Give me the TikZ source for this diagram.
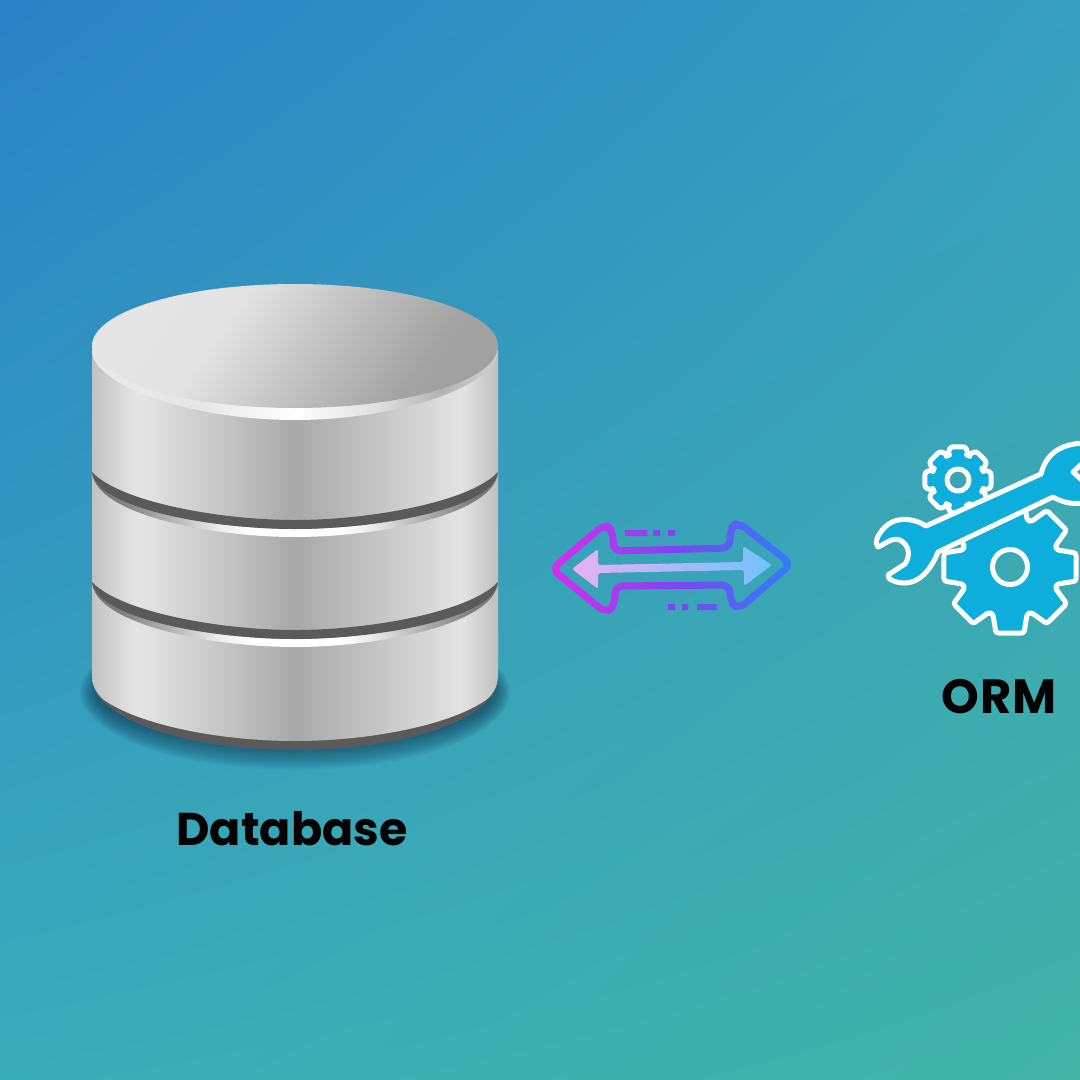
\documentclass[tikz,border=0pt]{standalone}
\usepackage{fontspec}
\setmainfont{Poppins}[BoldFont={Poppins Bold}]
\usetikzlibrary{shadings}
\definecolor{gearblue}{HTML}{0DAEDC}
\definecolor{bgul}{HTML}{2A82C6}
\definecolor{bgur}{HTML}{379FBF}
\definecolor{bgll}{HTML}{3AADBA}
\definecolor{bglr}{HTML}{41B4A6}
\definecolor{cl}{HTML}{D52EF0}
\definecolor{cm}{HTML}{7F45F0}
\definecolor{cr}{HTML}{2A82F8}
\definecolor{darkband}{HTML}{5A5A5A}
\definecolor{shadowcol}{HTML}{123F5C}
\definecolor{pale}{HTML}{E8B0F2}
\definecolor{palemid}{HTML}{BDB4F6}
\definecolor{paler}{HTML}{70C2FF}
% TikZ maps the central 25--75bp of a shading on the bounding box
\pgfdeclarehorizontalshading{metal}{100bp}{
 color(0bp)=(black!24);
 color(25bp)=(black!24);
 color(30.5bp)=(black!10);
 color(40bp)=(black!21);
 color(50bp)=(black!34);
 color(60bp)=(black!23);
 color(70.5bp)=(black!11);
 color(75bp)=(black!25);
 color(100bp)=(black!25)}
\pgfdeclarehorizontalshading{glint}{100bp}{
 color(0bp)=(black!55);
 color(25bp)=(black!55);
 color(28.5bp)=(black!50);
 color(34.5bp)=(black!30);
 color(40.5bp)=(black!8);
 color(44.5bp)=(white);
 color(55.5bp)=(white);
 color(59.5bp)=(black!8);
 color(65.5bp)=(black!30);
 color(71.5bp)=(black!50);
 color(75bp)=(black!55);
 color(100bp)=(black!55)}
\pgfdeclarehorizontalshading{rimglint}{100bp}{
 color(0bp)=(black!8);
 color(25bp)=(black!8);
 color(38bp)=(black!10);
 color(50bp)=(white);
 color(60bp)=(black!12);
 color(68bp)=(black!30);
 color(75bp)=(black!18);
 color(100bp)=(black!18)}
\pgfdeclarehorizontalshading{lidshade}{100bp}{
 color(0bp)=(black!10);
 color(25bp)=(black!10);
 color(38bp)=(black!11);
 color(55bp)=(black!25);
 color(70bp)=(black!36);
 color(75bp)=(black!37);
 color(100bp)=(black!37)}
\tikzset{
 metalbody/.style={shading=metal,shading angle=0},
 glintband/.style={shading=glint,shading angle=0},
 gearshape/.style={fill=gearblue,draw=white,line width=5pt,line join=round,rounded corners=2.5pt,even odd rule},
 labeltext/.style={text=black,inner sep=0pt}
}
\newcommand{\gearring}[7]{% cx cy R r n halfroot halftip -> \gearpts
 \gdef\gearpts{}%
 \foreach \gi in {1,...,#5}{%
  \pgfmathsetmacro{\gc}{\gi*360/#5}%
  \pgfmathsetmacro{\xa}{#1+#4*cos(\gc-#6)}\pgfmathsetmacro{\ya}{#2+#4*sin(\gc-#6)}%
  \pgfmathsetmacro{\xb}{#1+#3*cos(\gc-#7)}\pgfmathsetmacro{\yb}{#2+#3*sin(\gc-#7)}%
  \pgfmathsetmacro{\xc}{#1+#3*cos(\gc+#7)}\pgfmathsetmacro{\yc}{#2+#3*sin(\gc+#7)}%
  \pgfmathsetmacro{\xd}{#1+#4*cos(\gc+#6)}\pgfmathsetmacro{\yd}{#2+#4*sin(\gc+#6)}%
  \xdef\gearpts{\gearpts (\xa,\ya) -- (\xb,\yb) -- (\xc,\yc) -- (\xd,\yd) -- }%
 }%
}
\begin{document}
\begin{tikzpicture}[x=1pt,y=-1pt]
\useasboundingbox (0,0) rectangle (1080,1080);
\clip (0,0) rectangle (1080,1080);
\shade[upper left=bgul,upper right=bgur,lower left=bgll,lower right=bglr] (0,0) rectangle (1080,1080);
% shadow
\foreach \k in {0,...,21}{
 \fill[shadowcol,opacity=0.045] (295,692) ellipse ({215-\k*0.8} and {78-\k*1.2});
}
% cylinder
\fill[darkband] (92,660) -- (97,695) .. controls (130,735) and (220,750) .. (295,750) .. controls (370,750) and (460,735) .. (493,695) -- (498,660) -- cycle;
\shade[metalbody] (92,350) -- (92,675) .. controls (92,688) and (98,695) .. (104,700) .. controls (140,725) and (220,741) .. (295,741) .. controls (370,741) and (450,725) .. (486,700) .. controls (492,695) and (498,688) .. (498,675) -- (498,350) -- cycle;
% bands
\foreach \yy in {472,582}{
 \shade[glintband] (92,\yy) .. controls (95,{\yy+42}) and (210,{\yy+65}) .. (295,{\yy+65}) .. controls (380,{\yy+65}) and (495,{\yy+42}) .. (498,\yy) .. controls (495,{\yy+36}) and (380,{\yy+57}) .. (295,{\yy+57}) .. controls (210,{\yy+57}) and (95,{\yy+36}) .. (92,\yy) -- cycle;
 \fill[darkband] (92,\yy) .. controls (95,{\yy+36}) and (210,{\yy+57}) .. (295,{\yy+57}) .. controls (380,{\yy+57}) and (495,{\yy+36}) .. (498,\yy) .. controls (470,{\yy+30}) and (370,{\yy+48}) .. (295,{\yy+48}) .. controls (220,{\yy+48}) and (120,{\yy+30}) .. (92,\yy) -- cycle;
}
% lid
\shade[shading=rimglint,shading angle=0] (92,350) .. controls (92,385) and (190,420) .. (295,420) .. controls (400,420) and (498,385) .. (498,350) -- cycle;
\shade[shading=lidshade,shading angle=-35] (295,346) ellipse (203 and 62);
% labels
\node[labeltext,font=\fontsize{46}{50}\selectfont\bfseries] (database) at (292,829) {Database};
\node[labeltext,font=\fontsize{48}{50}\selectfont\bfseries\addfontfeature{LetterSpace=3}] (orm) at (999,697) {ORM};
% arrow outline with gradient, in vertical slices
\foreach \s in {0,...,39}{
 \pgfmathsetmacro{\xa}{548+\s*6.2}
 \pgfmathsetmacro{\xb}{\xa+6.6}
 \pgfmathsetmacro{\mixa}{min(100,\s*5)}
 \pgfmathsetmacro{\mixb}{max(0,(\s-20)*5)}
 \ifnum\s<20 \colorlet{slicecol}{cm!\mixa!cl}\else\colorlet{slicecol}{cr!\mixb!cm}\fi
 \begin{scope}
 \clip (\xa,510) rectangle (\xb,625);
 \draw[slicecol,line width=7pt,rounded corners=8pt,line join=round]
  (552,569) -- (605,524) -- (613,531) -- (613,551) -- (730,548) -- (730,529) -- (738,522) -- (791,564) -- (739,609) -- (730,602) -- (730,585) -- (615,586) -- (615,605) -- (606,613) -- cycle;
 \fill[slicecol] (625,530) rectangle (647,536) (653,530) rectangle (660,536) (668,530) rectangle (675,536)
  (668,604) rectangle (675,610) (682,604) rectangle (688,610) (697,604) rectangle (717,610);
 \end{scope}
}
% inner arrow
\shade[left color=pale,middle color=palemid,right color=paler,rounded corners=2.5pt]
 (572,569) -- (598,549) -- (598,565) -- (743,562) -- (743,546) -- (772,565) -- (744,586) -- (744,570) -- (598,573) -- (598,589) -- cycle;
% ORM icon
\gearring{1010}{567}{67.5}{50}{8}{20}{12}
\path[gearshape] \gearpts cycle (1010,567) circle[radius=17.5];
\gearring{958}{480}{34}{26.5}{8}{24}{13}
\path[gearshape] \gearpts cycle (958,480) circle[radius=11];
\path[fill=gearblue,draw=white,line width=5pt,line join=round]
 (926,526) -- (1041,474) .. controls (1046,454) and (1060,444) .. (1084,443) -- (1084,462) -- (1073,472) -- (1084,482) -- (1084,503) .. controls (1070,505) and (1060,501) .. (1053,497) -- (938,552)
 .. controls (930,572) and (918,583) .. (905,583) .. controls (895,583) and (887,579) .. (888,575) -- (905,564) .. controls (911,555) and (909,545) .. (900,540) .. controls (892,537) and (885,544) .. (878,547) .. controls (874,544) and (877,535) .. (885,527) .. controls (895,517) and (912,517) .. (926,526) -- cycle;
\end{tikzpicture}
\end{document}
